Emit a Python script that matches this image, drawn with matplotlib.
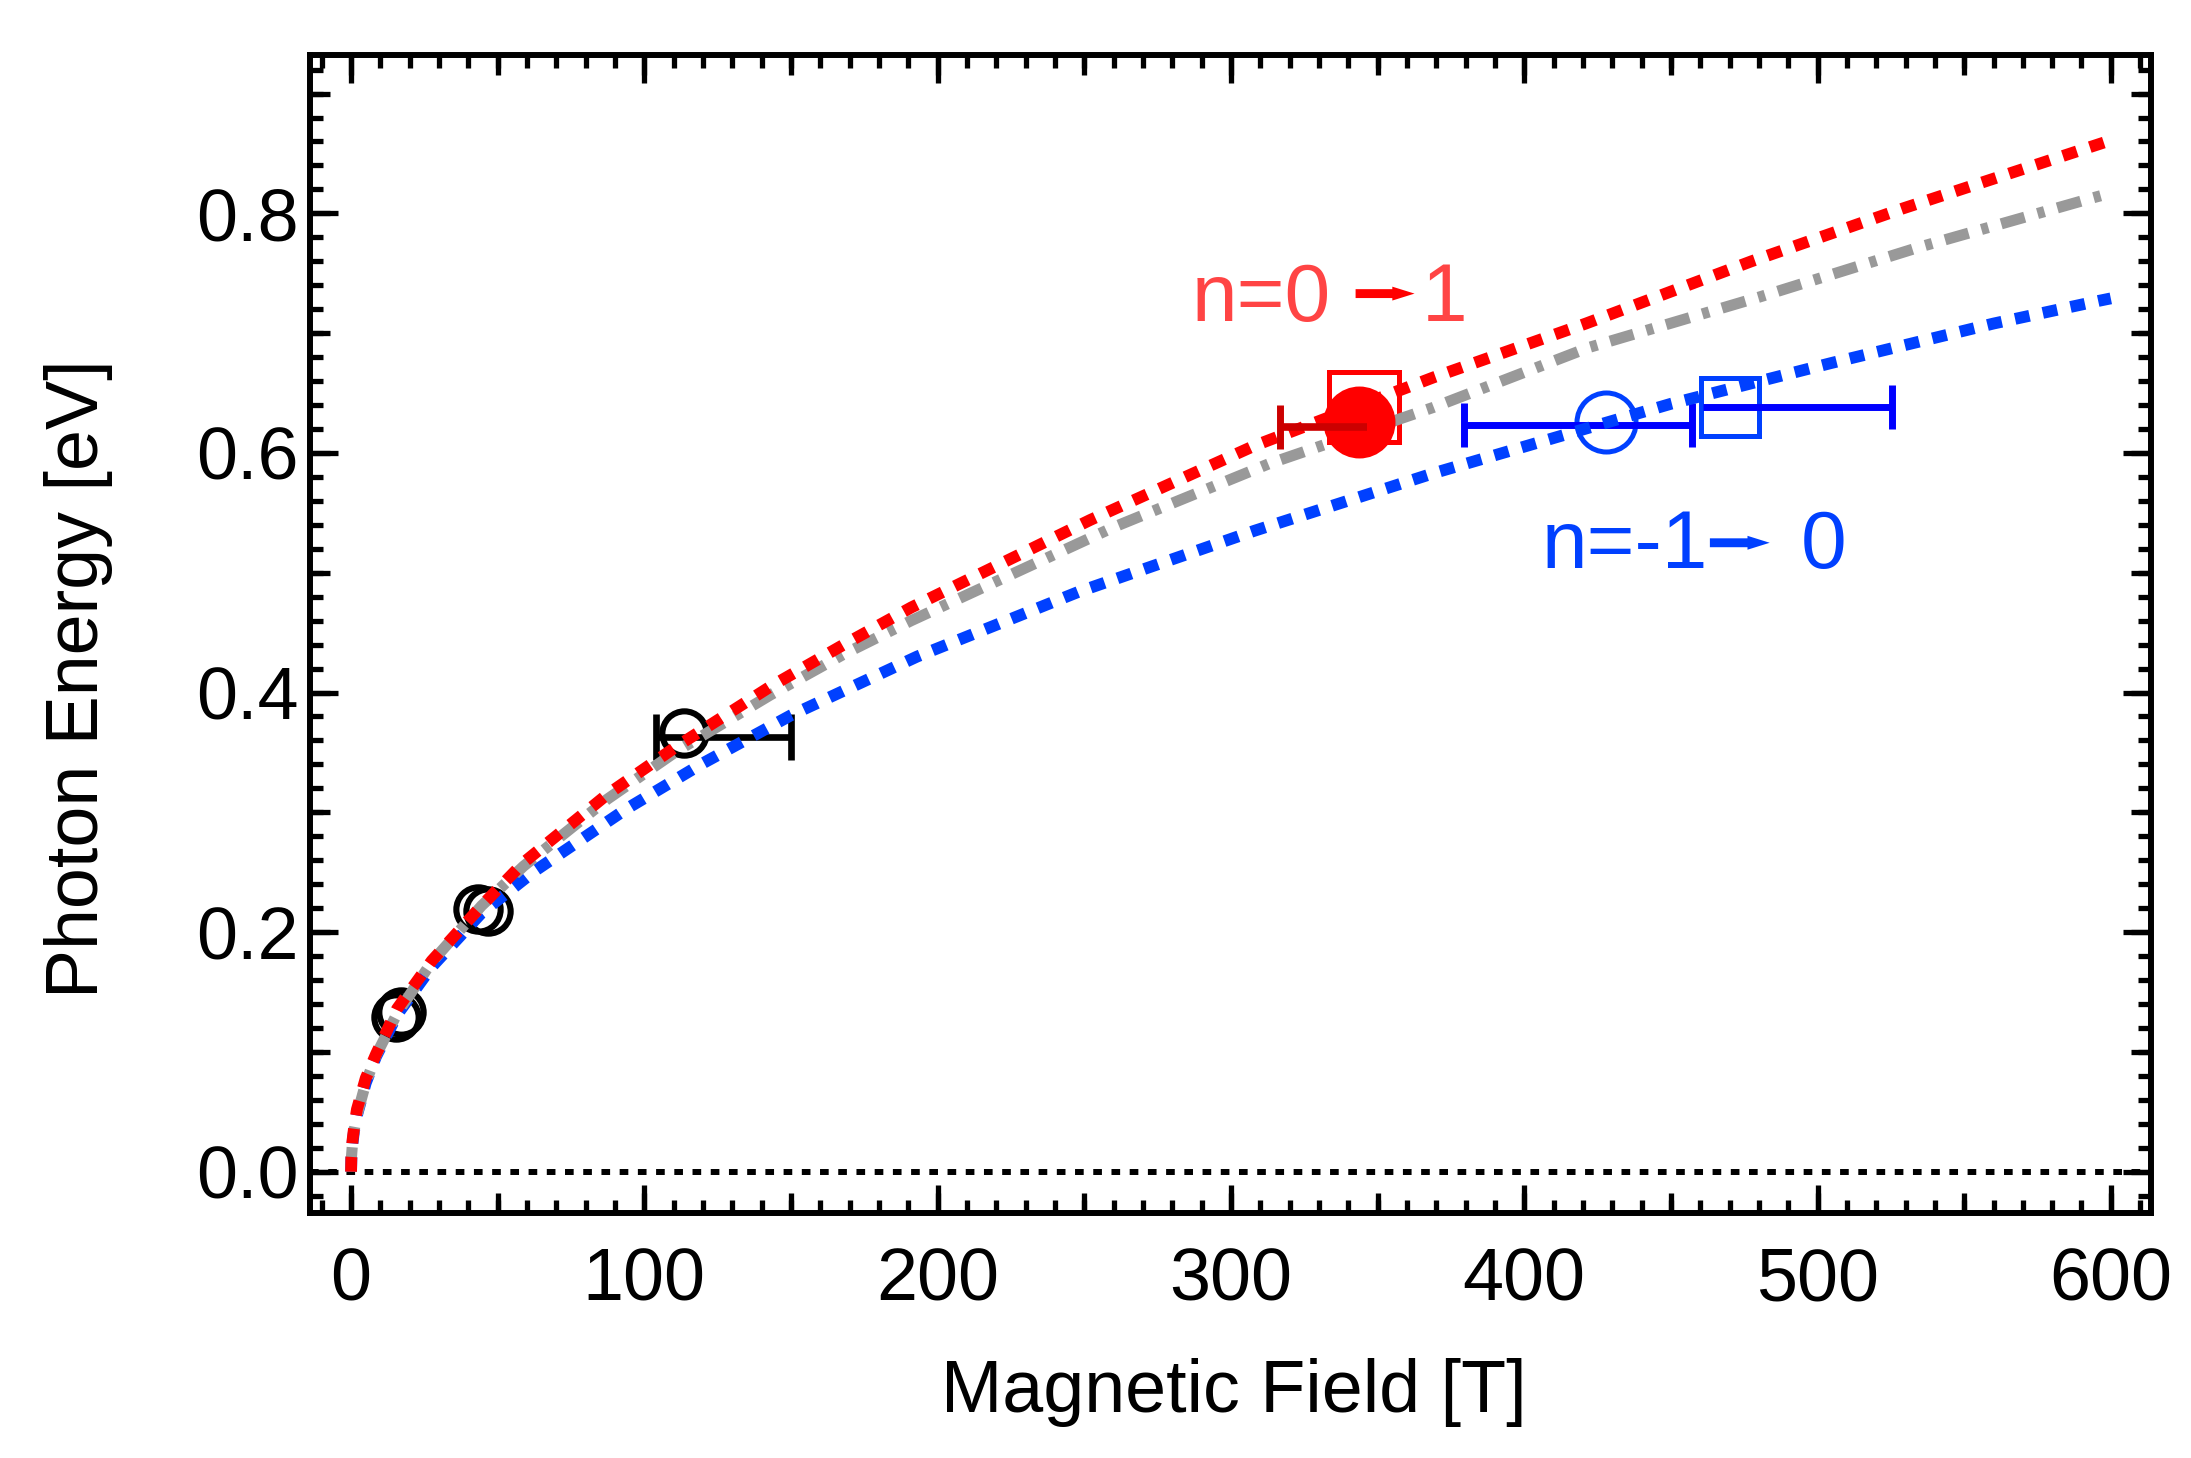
import matplotlib
matplotlib.use('Agg')
import matplotlib.pyplot as plt
from matplotlib.ticker import MultipleLocator, NullLocator
from matplotlib.patches import ArrowStyle

plt.rcParams['font.family'] = ['Liberation Sans', 'DejaVu Sans']

# ---------------- data ----------------
# n=0 -> 1 (red dotted)
red_B = [0, 0.1, 0.5, 1, 2, 5, 8.5, 15.7, 27.5, 44.5, 58.8, 87.4, 111, 143, 168,
         191, 252, 308, 369, 421, 477.5, 529, 592.5, 600]
red_E = [0, 0.012, 0.026, 0.036, 0.052, 0.078, 0.098, 0.136, 0.176, 0.222, 0.258,
         0.315, 0.355, 0.405, 0.440, 0.471, 0.544, 0.606, 0.663, 0.708, 0.760,
         0.804, 0.855, 0.861]
# gray dash-dot
gray_B = [0, 0.1, 0.5, 1, 2, 5, 8.5, 15.7, 27.5, 44.5, 58.8, 87.4, 111, 143, 168,
          191, 260, 313, 369, 422, 480, 535, 592.5, 600]
gray_E = [0, 0.011, 0.024, 0.034, 0.047, 0.074, 0.097, 0.132, 0.175, 0.222, 0.255,
          0.311, 0.351, 0.398, 0.432, 0.460, 0.538, 0.591, 0.638, 0.688, 0.730,
          0.772, 0.812, 0.817]
# n=-1 -> 0 (blue dotted)
blue_B = [0, 0.1, 0.5, 1, 2, 5, 8.5, 15.7, 27.5, 44.5, 62.6, 94, 120, 150, 193,
          248, 308, 369, 415, 450, 504.6, 560, 596, 600]
blue_E = [0, 0.011, 0.024, 0.034, 0.047, 0.074, 0.096, 0.131, 0.171, 0.216, 0.251,
          0.303, 0.341, 0.381, 0.430, 0.484, 0.535, 0.583, 0.616, 0.641, 0.675,
          0.708, 0.727, 0.729]

# black open circles
black_B = [15.2, 16.9, 43.3, 46.7, 113.5]
black_E = [0.1295, 0.1335, 0.219, 0.218, 0.366]
# black error bar
black_err_B = [113.5]
black_err_E = [0.363]
black_err_lo = [9.5]
black_err_hi = [36.6]

# red points
red_circ_B = [343.7]
red_circ_E = [0.626]
red_sq_B = [345.2]
red_sq_E = [0.638]
red_err_B = [344.0]
red_err_E = [0.622]
red_err_lo = [27.2]
red_err_hi = [2.3]

# blue points
blue_circ_B = [427.9]
blue_circ_E = [0.6255]
blue_circ_err_E = [0.6233]
blue_circ_err_lo = [48.4]
blue_circ_err_hi = [29.3]
blue_sq_B = [470.2]
blue_sq_E = [0.638]
blue_sq_err_lo = [9.3]
blue_sq_err_hi = [55.2]

# annotation texts
red_label_left = "n=0"
red_label_right = "1"
blue_label_left = "n=-1"
blue_label_right = "0"

RED = '#FF0000'
RED_TXT = '#FF4444'
DARKRED = '#CC0000'
BLUE = '#0040FF'
BLUE_BAR = '#0000FF'
GRAY = '#999999'

XLIM = (-14, 613.7)
YLIM = (-0.0345, 0.9326)

# ---------------- figure ----------------
fig = plt.figure(figsize=(21.91, 14.58), dpi=100)
rect = [310 / 2191, 1 - 1213 / 1458, (2151 - 310) / 2191, (1213 - 54.5) / 1458]

# medium ticks (every 50 T and 0.1 eV) on an underlying axes with the same limits
ax2 = fig.add_axes(rect)
ax2.set_xlim(*XLIM)
ax2.set_ylim(*YLIM)
ax2.patch.set_visible(False)
for sp in ax2.spines.values():
    sp.set_visible(False)
ax2.xaxis.set_major_locator(MultipleLocator(50))
ax2.yaxis.set_major_locator(MultipleLocator(0.1))
ax2.xaxis.set_minor_locator(NullLocator())
ax2.yaxis.set_minor_locator(NullLocator())
ax2.tick_params(which='major', direction='in', top=True, right=True, bottom=True, left=True,
                length=14.4, width=3.8, labelbottom=False, labelleft=False,
                labeltop=False, labelright=False)

ax = fig.add_axes(rect)
ax.patch.set_visible(False)
ax.set_xlim(*XLIM)
ax.set_ylim(*YLIM)

ax.axhline(0, color='black', lw=4.3, ls=(0, (1.45, 1.6)), dash_capstyle='butt', zorder=1)

# markers
ax.plot(black_B, black_E, 'o', ms=31.9, mfc='none', mec='black', mew=4.4, zorder=2)
eb = ax.errorbar(black_err_B, black_err_E, xerr=[black_err_lo, black_err_hi], fmt='none',
                 ecolor='black', elinewidth=4.8, capsize=16.9, capthick=4.8, zorder=2)

ax.plot(red_sq_B, red_sq_E, 's', ms=49.7, mfc='none', mec=RED, mew=3.6, zorder=2)
ax.plot(blue_circ_B, blue_circ_E, 'o', ms=42.5, mfc='none', mec=BLUE, mew=3.6, zorder=2)
ax.plot(blue_sq_B, blue_sq_E, 's', ms=42.0, mfc='none', mec=BLUE, mew=3.6, zorder=2)

eb_bc = ax.errorbar(blue_circ_B, blue_circ_err_E, xerr=[blue_circ_err_lo, blue_circ_err_hi],
                    fmt='none', ecolor=BLUE_BAR, elinewidth=5, capsize=15.5, capthick=5, zorder=2)
eb_bs = ax.errorbar(blue_sq_B, blue_sq_E, xerr=[blue_sq_err_lo, blue_sq_err_hi],
                    fmt='none', ecolor=BLUE_BAR, elinewidth=5, capsize=15.5, capthick=5, zorder=2)
# only the right cap for the square's bar
for cl in eb_bs[1]:
    if abs(cl.get_xdata()[0] - (blue_sq_B[0] - blue_sq_err_lo[0])) < 1e-6:
        cl.set_visible(False)

# curves (blue below, gray, red on top)
ax.plot(blue_B, blue_E, color=BLUE, lw=8.5, ls=(0, (1.25, 1.15)), dash_capstyle='butt', zorder=3)
ax.plot(gray_B, gray_E, color=GRAY, lw=8.0, ls=(0, (2.2, 1.2, 0.65, 1.2)),
        dash_capstyle='butt', zorder=3.1)
ax.plot(red_B, red_E, color=RED, lw=8.5, ls=(0, (1.25, 1.15)), dash_capstyle='butt', zorder=3.2)

# red filled circle and its bar on top
ax.plot(red_circ_B, red_circ_E, 'o', ms=51.8, color=RED, mew=0, zorder=4)
eb_r = ax.errorbar(red_err_B, red_err_E, xerr=[red_err_lo, red_err_hi], fmt='none',
                   ecolor=DARKRED, elinewidth=5.5, capsize=15.5, capthick=5, zorder=5)
for cl in eb_r[1]:
    if abs(cl.get_xdata()[0] - (red_err_B[0] + red_err_hi[0])) < 1e-6:
        cl.set_visible(False)

# annotations
fs_ann = 59
ax.text(286.7, 0.710, red_label_left, color=RED_TXT, fontsize=fs_ann, ha='left', va='baseline')
ax.text(364.9, 0.710, red_label_right, color=RED_TXT, fontsize=fs_ann, ha='left', va='baseline')
ax.text(405.8, 0.504, blue_label_left, color=BLUE, fontsize=fs_ann, ha='left', va='baseline')
ax.text(494.2, 0.504, blue_label_right, color=BLUE, fontsize=fs_ann, ha='left', va='baseline')
style = ArrowStyle.Simple(head_length=0.8, head_width=0.5, tail_width=0.32)
ax.annotate('', xy=(362.6, 0.733), xytext=(342.5, 0.733),
            arrowprops=dict(arrowstyle=style, mutation_scale=20, color=RED, lw=0,
                            shrinkA=0, shrinkB=0))
ax.annotate('', xy=(483.7, 0.525), xytext=(463.3, 0.525),
            arrowprops=dict(arrowstyle=style, mutation_scale=20, color=BLUE, lw=0,
                            shrinkA=0, shrinkB=0))

# ticks
ax.xaxis.set_major_locator(MultipleLocator(100))
ax.xaxis.set_minor_locator(MultipleLocator(10))
ax.yaxis.set_major_locator(MultipleLocator(0.2))
ax.yaxis.set_minor_locator(MultipleLocator(0.02))
ax.tick_params(which='both', direction='in', top=True, right=True, width=3.8, color='black')
ax.tick_params(which='major', length=20.2, labelsize=53)
ax.tick_params(which='minor', length=9.4)
ax.tick_params(axis='x', which='major', pad=24)
ax.tick_params(axis='y', which='major', pad=8)
for sp in ax.spines.values():
    sp.set_linewidth(4.3)

# axis labels
fig.text(1234 / 2191, 1 - 1412 / 1458, 'Magnetic Field [T]', fontsize=53,
         ha='center', va='baseline')
fig.text(98 / 2191, 1 - 679 / 1458, 'Photon Energy [eV]', fontsize=53, rotation=90,
         ha='center', va='baseline', rotation_mode='anchor')

fig.savefig('out.png', dpi=100)
